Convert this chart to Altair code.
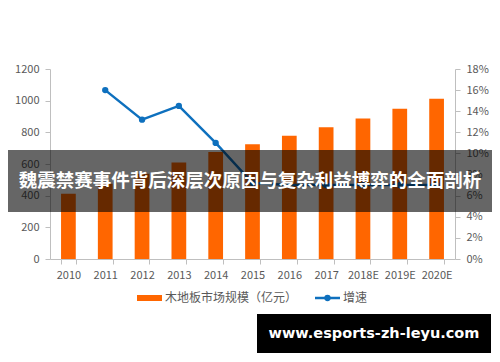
import altair as alt
import pandas as pd

years = ["2010", "2011", "2012", "2013", "2014", "2015", "2016", "2017", "2018E", "2019E", "2020E"]
market = [412, 476, 538, 610, 676, 724, 778, 832, 887, 949, 1012]
growth = [None, 0.160, 0.132, 0.145, 0.110, 0.072, 0.070, 0.070, 0.070, 0.070, 0.070]

bar_name = "木地板市场规模（亿元）"
line_name = "增速"
banner_text = "魏震禁赛事件背后深层次原因与复杂利益博弈的全面剖析"
site_text = "www.esports-zh-leyu.com"

ORANGE = "#FF6600"
BLUE = "#0E70BE"
GRAY = "#BFBFBF"
LABEL = "#595959"
FONT = "Noto Sans CJK SC"

df = pd.DataFrame({"year": years, "market": market, "growth": growth})
one = pd.DataFrame({"k": [0]})

xenc = alt.X(
    "year:N",
    sort=years,
    scale=alt.Scale(paddingInner=0.6, paddingOuter=0.3),
    axis=alt.Axis(
        title=None, labelAngle=0, tickBand="extent", domainColor=GRAY,
        tickColor=GRAY, labelColor=LABEL, labelFontSize=11, labelFont=FONT,
        tickSize=5, labelPadding=5,
    ),
)

bars = alt.Chart(df).mark_bar(color=ORANGE).encode(
    x=xenc,
    y=alt.Y(
        "market:Q",
        scale=alt.Scale(domain=[0, 1200], nice=False),
        axis=alt.Axis(
            title=None, values=list(range(0, 1201, 200)), format="d", grid=False,
            domainColor=GRAY, tickColor=GRAY, labelColor=LABEL,
            labelFontSize=11, labelFont=FONT, tickSize=5, labelPadding=6,
        ),
    ),
)

line = alt.Chart(df).mark_line(
    color=BLUE, strokeWidth=2.5,
    point=alt.OverlayMarkDef(filled=True, size=40, color=BLUE),
).encode(
    x=alt.X("year:N", sort=years),
    y=alt.Y(
        "growth:Q",
        scale=alt.Scale(domain=[0, 0.18], nice=False),
        axis=alt.Axis(
            title=None, orient="right", format=".0%",
            values=[0, 0.02, 0.04, 0.06, 0.08, 0.10, 0.12, 0.14, 0.16, 0.18],
            grid=False, domainColor=GRAY, tickColor=GRAY, labelColor=LABEL,
            labelFontSize=11, labelFont=FONT, tickSize=5, labelPadding=6,
        ),
    ),
)

base = alt.Chart(one)

leg_rect = base.mark_rect(color=ORANGE).encode(
    x=alt.value(87), x2=alt.value(112), y=alt.value(226), y2=alt.value(232)
)
leg_text1 = base.mark_text(
    text=bar_name, align="left", baseline="middle", fontSize=12, font=FONT, color=LABEL
).encode(x=alt.value(115), y=alt.value(229))
leg_line = base.mark_rule(color=BLUE, strokeWidth=2.5).encode(
    x=alt.value(265), x2=alt.value(290), y=alt.value(229)
)
leg_pt = base.mark_point(filled=True, size=40, color=BLUE, opacity=1).encode(
    x=alt.value(277.5), y=alt.value(229)
)
leg_text2 = base.mark_text(
    text=line_name, align="left", baseline="middle", fontSize=12, font=FONT, color=LABEL
).encode(x=alt.value(293), y=alt.value(229))

banner = base.mark_rect(color="#000000", opacity=0.6).encode(
    x=alt.value(-50), x2=alt.value(450), y=alt.value(81), y2=alt.value(143)
)
banner_t = base.mark_text(
    text=banner_text, align="center", baseline="middle", fontSize=18.5,
    font=FONT, fontWeight="bold", color="#FFFFFF"
).encode(x=alt.value(200), y=alt.value(112))

box = base.mark_rect(color="#000000").encode(
    x=alt.value(207), x2=alt.value(441), y=alt.value(245), y2=alt.value(284)
)
box_t = base.mark_text(
    text=site_text, align="center", baseline="middle", fontSize=14.5,
    font="DejaVu Sans", fontWeight="bold", color="#FFFFFF"
).encode(x=alt.value(324), y=alt.value(265))

chart = alt.layer(
    bars, line, leg_rect, leg_text1, leg_line, leg_pt, leg_text2,
    banner, banner_t, box, box_t
).resolve_scale(y="independent").properties(
    width=405, height=190,
    autosize=alt.AutoSizeParams(type="none"),
    padding={"left": 42, "top": 61, "right": 37, "bottom": 95},
    background="#FFFFFF",
).configure_view(stroke=None)

chart.save("out.html", embed_options={"renderer": "svg", "actions": False})
